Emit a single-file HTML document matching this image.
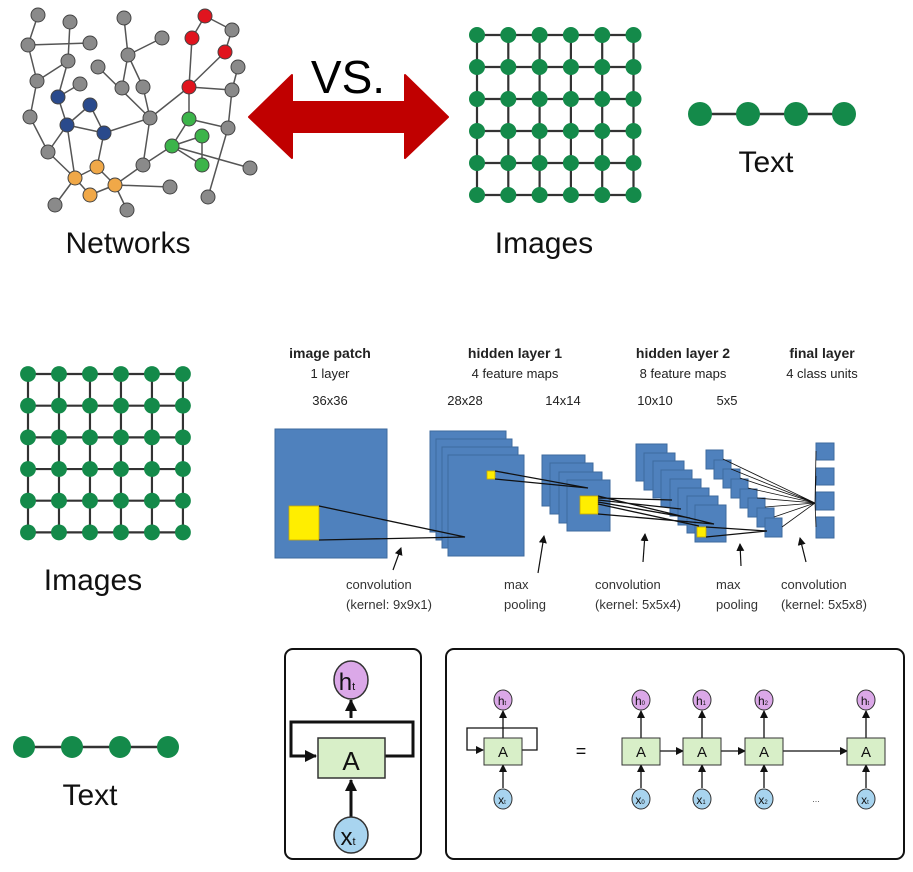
<!DOCTYPE html>
<html><head><meta charset="utf-8"><style>
html,body{margin:0;padding:0;background:#fff;}
svg{display:block;font-family:"Liberation Sans",sans-serif;}
</style></head><body>
<svg width="913" height="872" viewBox="0 0 913 872" xmlns="http://www.w3.org/2000/svg">
<defs>
<g id="grid">
 <g stroke="#333" stroke-width="2.2">
  <line x1="0" y1="0" x2="156.5" y2="0"/><line x1="0" y1="32" x2="156.5" y2="32"/><line x1="0" y1="64" x2="156.5" y2="64"/><line x1="0" y1="96" x2="156.5" y2="96"/><line x1="0" y1="128" x2="156.5" y2="128"/><line x1="0" y1="160" x2="156.5" y2="160"/>
  <line x1="0" y1="0" x2="0" y2="160"/><line x1="31.3" y1="0" x2="31.3" y2="160"/><line x1="62.6" y1="0" x2="62.6" y2="160"/><line x1="93.9" y1="0" x2="93.9" y2="160"/><line x1="125.2" y1="0" x2="125.2" y2="160"/><line x1="156.5" y1="0" x2="156.5" y2="160"/>
 </g>
 <g fill="#148a4a">
  <g id="row"><circle cx="0" cy="0" r="8"/><circle cx="31.3" cy="0" r="8"/><circle cx="62.6" cy="0" r="8"/><circle cx="93.9" cy="0" r="8"/><circle cx="125.2" cy="0" r="8"/><circle cx="156.5" cy="0" r="8"/></g>
  <use href="#row" y="32"/><use href="#row" y="64"/><use href="#row" y="96"/><use href="#row" y="128"/><use href="#row" y="160"/>
 </g>
</g>
<marker id="ar" markerWidth="8" markerHeight="8" refX="7" refY="4" orient="auto" markerUnits="userSpaceOnUse"><path d="M0,0 L8,4 L0,8 z" fill="#111"/></marker>
<marker id="ar2" markerWidth="12" markerHeight="12" refX="11" refY="6" orient="auto" markerUnits="userSpaceOnUse"><path d="M0,0 L12,6 L0,12 z" fill="#111"/></marker>
</defs>

<!-- Network -->
<g stroke="#555" stroke-width="1.5">
<path d="M38,15L28,45 M28,45L90,43 M70,22L68,61 M28,45L37,81 M68,61L37,81 M68,61L58,97 M37,81L30,117 M30,117L48,152 M48,152L75,178 M48,152L67,125 M58,97L67,125 M67,125L90,105 M90,105L104,133 M67,125L104,133 M104,133L97,167 M67,125L75,178 M97,167L75,178 M97,167L115,185 M75,178L90,195 M90,195L115,185 M75,178L55,205 M115,185L127,210 M115,185L143,165 M115,185L170,187 M104,133L150,118 M150,118L143,165 M150,118L98,67 M124,18L128,55 M128,55L162,38 M128,55L122,88 M128,55L143,87 M143,87L150,118 M150,118L189,87 M189,87L192,38 M192,38L205,16 M205,16L232,30 M232,30L225,52 M225,52L189,87 M189,87L232,90 M232,90L238,67 M189,87L189,119 M189,119L228,128 M232,90L228,128 M228,128L208,197 M189,119L172,146 M172,146L202,165 M172,146L202,136 M202,136L202,165 M172,146L143,165 M172,146L250,168 M80,84L58,97"/>
</g>
<g stroke="#444" stroke-width="1">
<g fill="#8a8a8a">
<circle cx="38" cy="15" r="7"/><circle cx="70" cy="22" r="7"/><circle cx="124" cy="18" r="7"/><circle cx="232" cy="30" r="7"/><circle cx="162" cy="38" r="7"/><circle cx="28" cy="45" r="7"/><circle cx="90" cy="43" r="7"/><circle cx="128" cy="55" r="7"/><circle cx="68" cy="61" r="7"/><circle cx="98" cy="67" r="7"/><circle cx="238" cy="67" r="7"/><circle cx="37" cy="81" r="7"/><circle cx="80" cy="84" r="7"/><circle cx="122" cy="88" r="7"/><circle cx="143" cy="87" r="7"/><circle cx="232" cy="90" r="7"/><circle cx="30" cy="117" r="7"/><circle cx="150" cy="118" r="7"/><circle cx="228" cy="128" r="7"/><circle cx="48" cy="152" r="7"/><circle cx="143" cy="165" r="7"/><circle cx="170" cy="187" r="7"/><circle cx="250" cy="168" r="7"/><circle cx="208" cy="197" r="7"/><circle cx="55" cy="205" r="7"/><circle cx="127" cy="210" r="7"/>
</g>
<g fill="#e0141e"><circle cx="205" cy="16" r="7"/><circle cx="192" cy="38" r="7"/><circle cx="225" cy="52" r="7"/><circle cx="189" cy="87" r="7"/></g>
<g fill="#2a4a8c"><circle cx="58" cy="97" r="7"/><circle cx="90" cy="105" r="7"/><circle cx="67" cy="125" r="7"/><circle cx="104" cy="133" r="7"/></g>
<g fill="#3cb44a"><circle cx="189" cy="119" r="7"/><circle cx="202" cy="136" r="7"/><circle cx="172" cy="146" r="7"/><circle cx="202" cy="165" r="7"/></g>
<g fill="#f0a848"><circle cx="97" cy="167" r="7"/><circle cx="75" cy="178" r="7"/><circle cx="115" cy="185" r="7"/><circle cx="90" cy="195" r="7"/></g>
</g>
<text x="128" y="253" font-size="30" text-anchor="middle" fill="#111">Networks</text>

<!-- VS arrow -->
<path d="M249,117 L292,75 L292,102 L405,102 L405,75 L448,117 L405,158 L405,132 L292,132 L292,158 Z" fill="#c00000" stroke="#c00000" stroke-width="2" stroke-linejoin="round"/>
<text x="348" y="93" font-size="46" text-anchor="middle" fill="#000">VS.</text>

<use href="#grid" x="477" y="35"/>
<text x="544" y="253" font-size="30" text-anchor="middle" fill="#111">Images</text>

<line x1="700" y1="114" x2="844" y2="114" stroke="#333" stroke-width="2.5"/>
<g fill="#148a4a"><circle cx="700" cy="114" r="12"/><circle cx="748" cy="114" r="12"/><circle cx="796" cy="114" r="12"/><circle cx="844" cy="114" r="12"/></g>
<text x="766" y="172" font-size="30" text-anchor="middle" fill="#111">Text</text>

<!-- second row -->
<g transform="translate(28,374) scale(0.99,0.99)"><use href="#grid"/></g>
<text x="93" y="590" font-size="30" text-anchor="middle" fill="#111">Images</text>

<line x1="24" y1="747" x2="168" y2="747" stroke="#333" stroke-width="2.5"/>
<g fill="#148a4a"><circle cx="24" cy="747" r="11"/><circle cx="72" cy="747" r="11"/><circle cx="120" cy="747" r="11"/><circle cx="168" cy="747" r="11"/></g>
<text x="90" y="805" font-size="30" text-anchor="middle" fill="#111">Text</text>

<!-- CNN -->
<g font-size="13" fill="#222" text-anchor="middle">
<text x="330" y="358" font-weight="bold" font-size="14">image patch</text>
<text x="330" y="378">1 layer</text>
<text x="515" y="358" font-weight="bold" font-size="14">hidden layer 1</text>
<text x="515" y="378">4 feature maps</text>
<text x="683" y="358" font-weight="bold" font-size="14">hidden layer 2</text>
<text x="683" y="378">8 feature maps</text>
<text x="822" y="358" font-weight="bold" font-size="14">final layer</text>
<text x="822" y="378">4 class units</text>
<text x="330" y="405">36x36</text>
<text x="465" y="405">28x28</text>
<text x="563" y="405">14x14</text>
<text x="655" y="405">10x10</text>
<text x="727" y="405">5x5</text>
</g>
<g fill="#4f81bd" stroke="#3d6a9e" stroke-width="1">
<rect x="275" y="429" width="112" height="129"/>
<rect x="430" y="431" width="76" height="101"/><rect x="436" y="439" width="76" height="101"/><rect x="442" y="447" width="76" height="101"/><rect x="448" y="455" width="76" height="101"/>
<rect x="542" y="455" width="43" height="51"/><rect x="550" y="463" width="43" height="51"/><rect x="559" y="472" width="43" height="51"/><rect x="567" y="480" width="43" height="51"/>
<rect x="636" y="444" width="31" height="37"/><rect x="644" y="453" width="31" height="37"/><rect x="653" y="461" width="31" height="37"/><rect x="661" y="470" width="31" height="37"/><rect x="670" y="479" width="31" height="37"/><rect x="678" y="488" width="31" height="37"/><rect x="687" y="496" width="31" height="37"/><rect x="695" y="505" width="31" height="37"/>
<rect x="706" y="450" width="17" height="19"/><rect x="714" y="460" width="17" height="19"/><rect x="723" y="469" width="17" height="19"/><rect x="731" y="479" width="17" height="19"/><rect x="740" y="489" width="17" height="19"/><rect x="748" y="498" width="17" height="19"/><rect x="757" y="508" width="17" height="19"/><rect x="765" y="518" width="17" height="19"/>
<rect x="816" y="443" width="18" height="17"/><rect x="816" y="468" width="18" height="17"/><rect x="816" y="492" width="18" height="18"/><rect x="816" y="517" width="18" height="21"/>
</g>
<g fill="#ffee00" stroke="#c8a800" stroke-width="0.8">
<rect x="289" y="506" width="30" height="34"/>
<rect x="487" y="471" width="8" height="8"/>
<rect x="580" y="496" width="18" height="18"/>
<rect x="697" y="527" width="9" height="10"/>
</g>
<g stroke="#111" stroke-width="1.3" fill="none">
<path d="M319,506 L465,537 L319,540 M495,471 L588,488 L495,479 M598,496 L714,524 L598,514 M598,498 L672,500 M598,500 L681,509 M598,502 L690,518 M598,504 L699,526 M706,527 L767,531 L706,537"/>
<path d="M815,503 L723,459 M815,503 L731,469 M815,503 L740,478 M815,503 L748,488 M815,503 L757,498 M815,503 L765,507 M815,503 L774,517 M815,503 L782,527 M815,503 L816,451 M815,503 L816,476 M815,503 L816,527" stroke-width="0.8"/>
</g>
<g stroke="#111" stroke-width="1.2" marker-end="url(#ar)">
<line x1="393" y1="570" x2="401" y2="548"/>
<line x1="538" y1="573" x2="544" y2="536"/>
<line x1="643" y1="562" x2="645" y2="534"/>
<line x1="741" y1="566" x2="740" y2="544"/>
<line x1="806" y1="562" x2="800" y2="538"/>
</g>
<g font-size="13" fill="#333">
<text x="346" y="589">convolution</text><text x="346" y="609">(kernel: 9x9x1)</text>
<text x="504" y="589">max</text><text x="504" y="609">pooling</text>
<text x="595" y="589">convolution</text><text x="595" y="609">(kernel: 5x5x4)</text>
<text x="716" y="589">max</text><text x="716" y="609">pooling</text>
<text x="781" y="589">convolution</text><text x="781" y="609">(kernel: 5x5x8)</text>
</g>

<!-- RNN left -->
<rect x="285" y="649" width="136" height="210" rx="8" fill="none" stroke="#111" stroke-width="2"/>
<path d="M385,756 L413,756 L413,722 L291,722 L291,756 L316,756" fill="none" stroke="#111" stroke-width="3" marker-end="url(#ar2)"/>
<line x1="351" y1="718" x2="351" y2="700" stroke="#111" stroke-width="3" marker-end="url(#ar2)"/>
<line x1="351" y1="818" x2="351" y2="780" stroke="#111" stroke-width="3" marker-end="url(#ar2)"/>
<rect x="318" y="738" width="67" height="40" fill="#d8efc8" stroke="#333" stroke-width="1.5"/>
<text x="351" y="770" font-size="26" text-anchor="middle" fill="#111">A</text>
<ellipse cx="351" cy="680" rx="17" ry="19" fill="#dba8e8" stroke="#333" stroke-width="1.5"/>
<text x="347" y="690" font-size="24" text-anchor="middle" fill="#111">h<tspan font-size="11">t</tspan></text>
<ellipse cx="351" cy="835" rx="17" ry="18" fill="#a8d4ef" stroke="#333" stroke-width="1.5"/>
<text x="348" y="845" font-size="24" text-anchor="middle" fill="#111">x<tspan font-size="11">t</tspan></text>

<!-- RNN right -->
<rect x="446" y="649" width="458" height="210" rx="8" fill="none" stroke="#111" stroke-width="2"/>
<g stroke="#111" stroke-width="1.3" fill="none">
<path d="M521,750 L537,750 L537,728 L467,728 L467,750 L483,750" marker-end="url(#ar)"/>
<line x1="503" y1="738" x2="503" y2="711" marker-end="url(#ar)"/>
<line x1="503" y1="788" x2="503" y2="765" marker-end="url(#ar)"/>
<line x1="641" y1="738" x2="641" y2="711" marker-end="url(#ar)"/>
<line x1="641" y1="788" x2="641" y2="765" marker-end="url(#ar)"/>
<line x1="702" y1="738" x2="702" y2="711" marker-end="url(#ar)"/>
<line x1="702" y1="788" x2="702" y2="765" marker-end="url(#ar)"/>
<line x1="764" y1="738" x2="764" y2="711" marker-end="url(#ar)"/>
<line x1="764" y1="788" x2="764" y2="765" marker-end="url(#ar)"/>
<line x1="866" y1="738" x2="866" y2="711" marker-end="url(#ar)"/>
<line x1="866" y1="788" x2="866" y2="765" marker-end="url(#ar)"/>
<line x1="660" y1="751" x2="683" y2="751" marker-end="url(#ar)"/>
<line x1="721" y1="751" x2="745" y2="751" marker-end="url(#ar)"/>
<line x1="783" y1="751" x2="847" y2="751" marker-end="url(#ar)"/>
</g>
<g fill="#d8efc8" stroke="#333" stroke-width="1">
<rect x="484" y="738" width="38" height="27"/>
<rect x="622" y="738" width="38" height="27"/>
<rect x="683" y="738" width="38" height="27"/>
<rect x="745" y="738" width="38" height="27"/>
<rect x="847" y="738" width="38" height="27"/>
</g>
<g font-size="15" text-anchor="middle" fill="#111">
<text x="503" y="757">A</text><text x="641" y="757">A</text><text x="702" y="757">A</text><text x="764" y="757">A</text><text x="866" y="757">A</text>
</g>
<text x="581" y="757" font-size="18" text-anchor="middle" fill="#111">=</text>
<text x="816" y="802" font-size="9" text-anchor="middle" fill="#555">...</text>
<g fill="#dba8e8" stroke="#333" stroke-width="1">
<ellipse cx="503" cy="700" rx="9" ry="10"/><ellipse cx="641" cy="700" rx="9" ry="10"/><ellipse cx="702" cy="700" rx="9" ry="10"/><ellipse cx="764" cy="700" rx="9" ry="10"/><ellipse cx="866" cy="700" rx="9" ry="10"/>
</g>
<g fill="#a8d4ef" stroke="#333" stroke-width="1">
<ellipse cx="503" cy="799" rx="9" ry="10"/><ellipse cx="641" cy="799" rx="9" ry="10"/><ellipse cx="702" cy="799" rx="9" ry="10"/><ellipse cx="764" cy="799" rx="9" ry="10"/><ellipse cx="866" cy="799" rx="9" ry="10"/>
</g>
<g font-size="12" text-anchor="middle" fill="#111">
<text x="502" y="705">h<tspan font-size="6">t</tspan></text><text x="640" y="705">h<tspan font-size="6">0</tspan></text><text x="701" y="705">h<tspan font-size="6">1</tspan></text><text x="763" y="705">h<tspan font-size="6">2</tspan></text><text x="865" y="705">h<tspan font-size="6">t</tspan></text>
<text x="502" y="804">x<tspan font-size="6">t</tspan></text><text x="640" y="804">x<tspan font-size="6">0</tspan></text><text x="701" y="804">x<tspan font-size="6">1</tspan></text><text x="763" y="804">x<tspan font-size="6">2</tspan></text><text x="865" y="804">x<tspan font-size="6">t</tspan></text>
</g>
</svg>
</body></html>
